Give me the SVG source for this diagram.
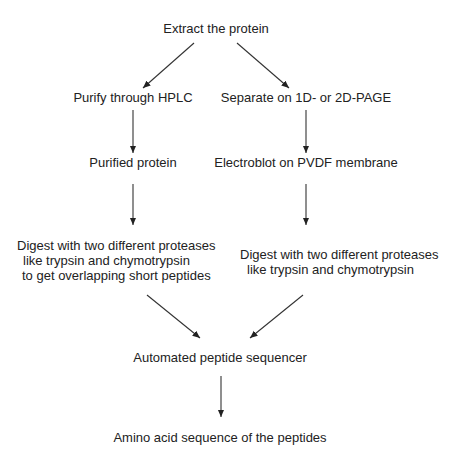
<svg xmlns="http://www.w3.org/2000/svg" width="454" height="451" viewBox="0 0 454 451">
<style>
text{font-family:"Liberation Sans",Arial,sans-serif;font-size:13px;fill:#222}
.c{text-anchor:middle}
.e line{stroke:#333;stroke-width:1.1}
</style>
<defs>
<marker id="ah" markerUnits="userSpaceOnUse" markerWidth="8" markerHeight="7" refX="7.5" refY="3.25" orient="auto">
<path d="M0,0 L7.5,3.25 L0,6.5 z" fill="#222"/>
</marker>
</defs>
<rect width="454" height="451" fill="#fff"/>
<g id="connectors" class="e">
<line x1="194" y1="43" x2="143" y2="88" marker-end="url(#ah)"/>
<line x1="237" y1="43" x2="289" y2="88" marker-end="url(#ah)"/>
<line x1="133" y1="110" x2="133" y2="153" marker-end="url(#ah)"/>
<line x1="306" y1="110" x2="306" y2="153" marker-end="url(#ah)"/>
<line x1="133" y1="184" x2="133" y2="225" marker-end="url(#ah)"/>
<line x1="306" y1="184" x2="306" y2="225" marker-end="url(#ah)"/>
<line x1="147" y1="295" x2="200" y2="338" marker-end="url(#ah)"/>
<line x1="303" y1="295" x2="250" y2="338" marker-end="url(#ah)"/>
<line x1="221" y1="376" x2="221" y2="417" marker-end="url(#ah)"/>
</g>
<g id="n1"><text class="c" x="216" y="33">Extract the protein</text></g>
<g id="n2"><text class="c" x="133" y="102">Purify through HPLC</text></g>
<g id="n3"><text class="c" x="306" y="102">Separate on 1D- or 2D-PAGE</text></g>
<g id="n4"><text class="c" x="133" y="167">Purified protein</text></g>
<g id="n5"><text class="c" x="306" y="167">Electroblot on PVDF membrane</text></g>
<g id="n6">
<text x="17" y="250">Digest with two different proteases</text>
<text x="23" y="265">like trypsin and chymotrypsin</text>
<text x="22" y="280">to get overlapping short peptides</text>
</g>
<g id="n7">
<text x="240" y="259">Digest with two different proteases</text>
<text x="247" y="274">like trypsin and chymotrypsin</text>
</g>
<g id="n8"><text class="c" x="220" y="362">Automated peptide sequencer</text></g>
<g id="n9"><text class="c" x="220" y="442">Amino acid sequence of the peptides</text></g>
</svg>
